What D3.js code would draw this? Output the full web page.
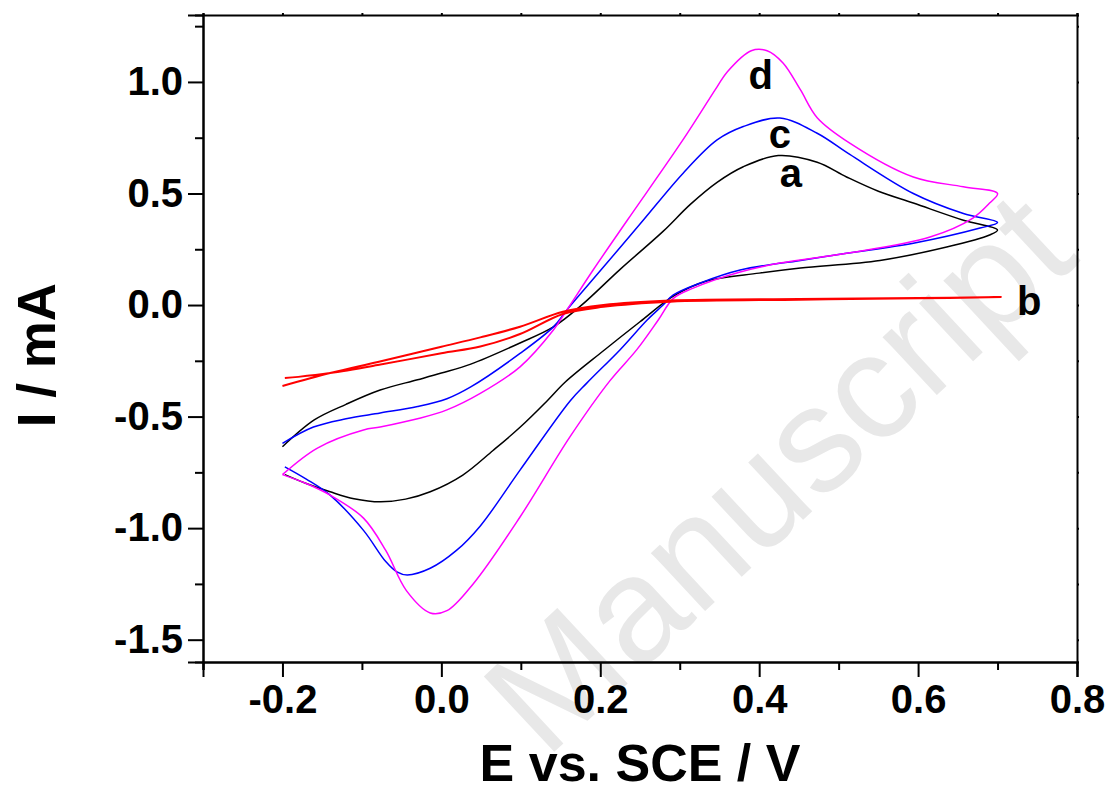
<!DOCTYPE html>
<html>
<head>
<meta charset="utf-8">
<script src="https://cdn.jsdelivr.net/npm/d3@7"></script>
<style>
  body { margin: 0; background: #fff; }
  text { font-family: "Liberation Sans", Arial, sans-serif; font-weight: bold; }
</style>
</head>
<body>
<div id="chart"></div>
<script>
// cyclic voltammograms: forward scan then reverse scan
const potA = [-0.2, -0.16, -0.12, -0.077, -0.03, 0.0, 0.037, 0.099, 0.141, 0.175, 0.225, 0.279, 0.313, 0.347, 0.38, 0.424, 0.473, 0.51, 0.55, 0.594, 0.657, 0.70,
              0.69, 0.636, 0.552, 0.452, 0.40, 0.334, 0.292, 0.25, 0.204, 0.156, 0.133, 0.099, 0.065, 0.027, -0.014, -0.045, -0.077, -0.11, -0.14, -0.17, -0.197];
const curA = [-0.635, -0.515, -0.445, -0.381, -0.335, -0.305, -0.265, -0.17, -0.098, -0.005, 0.16, 0.33, 0.45, 0.55, 0.62, 0.67, 0.64, 0.574, 0.51, 0.457, 0.38, 0.336,
              0.314, 0.26, 0.20, 0.166, 0.143, 0.108, 0.04, -0.075, -0.205, -0.345, -0.43, -0.548, -0.652, -0.762, -0.837, -0.87, -0.882, -0.868, -0.837, -0.80, -0.76];

const potB = [-0.2, -0.14, -0.08, 0.0, 0.049, 0.099, 0.153, 0.204, 0.288, 0.45, 0.60, 0.705,
              0.60, 0.45, 0.288, 0.204, 0.153, 0.099, 0.049, 0.0, -0.08, -0.14, -0.18, -0.197];
const curB = [-0.363, -0.305, -0.255, -0.187, -0.145, -0.097, -0.03, 0.0, 0.02, 0.027, 0.031, 0.036,
              0.03, 0.024, 0.015, -0.008, -0.04, -0.13, -0.186, -0.216, -0.269, -0.305, -0.322, -0.327];

const potC = [-0.2, -0.161, -0.12, -0.077, -0.03, 0.007, 0.037, 0.099, 0.141, 0.158, 0.204, 0.254, 0.304, 0.347, 0.38, 0.426, 0.473, 0.514, 0.594, 0.657, 0.70,
              0.678, 0.594, 0.51, 0.452, 0.376, 0.326, 0.292, 0.279, 0.259, 0.225, 0.183, 0.162, 0.099, 0.049, 0.019, -0.014, -0.043, -0.056, -0.07, -0.098, -0.14, -0.17, -0.197];
const curC = [-0.62, -0.547, -0.51, -0.484, -0.455, -0.42, -0.367, -0.217, -0.098, -0.022, 0.17, 0.38, 0.59, 0.74, 0.80, 0.838, 0.77, 0.675, 0.50, 0.41, 0.37,
              0.345, 0.277, 0.232, 0.20, 0.157, 0.099, 0.045, 0.0, -0.067, -0.20, -0.35, -0.43, -0.74, -0.99, -1.10, -1.18, -1.21, -1.196, -1.15, -1.01, -0.852, -0.78, -0.725];

const potD = [-0.2, -0.156, -0.098, -0.077, -0.03, 0.007, 0.049, 0.099, 0.141, 0.158, 0.191, 0.234, 0.304, 0.347, 0.36, 0.39, 0.41, 0.43, 0.452, 0.473, 0.514, 0.594, 0.657, 0.70,
              0.69, 0.669, 0.615, 0.51, 0.426, 0.376, 0.317, 0.292, 0.273, 0.246, 0.212, 0.162, 0.099, 0.04, 0.007, -0.014, -0.044, -0.07, -0.098, -0.14, -0.17, -0.2];
const curD = [-0.76, -0.641, -0.56, -0.547, -0.51, -0.47, -0.396, -0.277, -0.112, -0.022, 0.157, 0.38, 0.74, 0.978, 1.046, 1.14, 1.14, 1.085, 0.964, 0.84, 0.726, 0.574, 0.53, 0.50,
              0.457, 0.39, 0.305, 0.232, 0.188, 0.148, 0.076, 0.03, -0.067, -0.20, -0.34, -0.59, -0.95, -1.25, -1.37, -1.38, -1.28, -1.10, -0.955, -0.852, -0.80, -0.76];

const seriesNames = ["a", "b", "c", "d"];
const seriesColors = ["#000000", "#ff0000", "#0000ff", "#ff00ff"];
const labelE = [0.44, 0.74, 0.426, 0.402];
const labelI = [0.529, -0.045, 0.704, 0.969];

const xMajor = [-0.2, 0.0, 0.2, 0.4, 0.6, 0.8];
const xMinor = [-0.3, -0.1, 0.1, 0.3, 0.5, 0.7];
const yMajor = [-1.5, -1.0, -0.5, 0.0, 0.5, 1.0];
const yMinor = [-1.25, -0.75, -0.25, 0.25, 0.75, 1.25];

const width = 1113, height = 792;
const margin = { top: 15, right: 36, bottom: 130, left: 203 };

const svg = d3.select("#chart").append("svg")
    .attr("width", width)
    .attr("height", height);

const x = d3.scaleLinear().domain([-0.3, 0.8]).range([margin.left, width - margin.right]);
const y = d3.scaleLinear().domain([-1.6, 1.3]).range([height - margin.bottom, margin.top]);

// plain hyphen for negatives, like the original figure
const fmt = d => d3.format(".1f")(d).replace("\u2212", "-");

// faint watermark behind the plot
svg.append("text")
    .attr("transform", "translate(778,472) rotate(-43)")
    .attr("text-anchor", "middle")
    .attr("dominant-baseline", "central")
    .style("font-weight", "normal")
    .style("font-size", "150px")
    .attr("fill", "#e8e8e8")
    .text("Manuscript");

const line = d3.line()
    .x(d => x(d[0]))
    .y(d => y(d[1]))
    .curve(d3.curveCatmullRom.alpha(0.5));

const series = [
    { name: "a", pot: potA, cur: curA },
    { name: "b", pot: potB, cur: curB },
    { name: "c", pot: potC, cur: curC },
    { name: "d", pot: potD, cur: curD },
];

// draw order: a, c, d then b on top
[0, 2, 3, 1].forEach(i => {
    const s = series[i];
    svg.append("path")
        .datum(s.pot.map((p, k) => [p, s.cur[k]]))
        .attr("d", line)
        .attr("fill", "none")
        .attr("stroke", seriesColors[i])
        .attr("stroke-width", i === 1 ? 2 : 1.5);
});

// axes
const bottomAxis = svg.append("g")
    .attr("transform", `translate(0,${y(-1.6)})`)
    .call(d3.axisBottom(x).tickValues(xMajor).tickSize(15).tickPadding(8).tickFormat(fmt));
bottomAxis.append("g")
    .call(d3.axisBottom(x).tickValues(xMinor).tickSize(8).tickFormat(""));

const leftAxis = svg.append("g")
    .attr("transform", `translate(${x(-0.3)},0)`)
    .call(d3.axisLeft(y).tickValues(yMajor).tickSize(15).tickPadding(5).tickFormat(fmt));
leftAxis.append("g")
    .call(d3.axisLeft(y).tickValues(yMinor).tickSize(8).tickFormat(""));

svg.append("g")
    .attr("transform", `translate(0,${y(1.3)})`)
    .call(d3.axisTop(x).tickValues(xMajor.concat(xMinor)).tickSize(2).tickFormat(""));
svg.append("g")
    .attr("transform", `translate(${x(0.8)},0)`)
    .call(d3.axisRight(y).tickValues(yMajor.concat(yMinor)).tickSize(2).tickFormat(""));

svg.selectAll(".domain, .tick line")
    .attr("stroke", "#000")
    .attr("stroke-width", 2);
svg.selectAll(".tick text")
    .attr("fill", "#000")
    .style("font-size", "40px")
    .style("font-family", "'Liberation Sans', Arial, sans-serif")
    .style("font-weight", "bold");

// curve labels
svg.selectAll(".lbl")
    .data(seriesNames)
    .enter()
    .append("text")
    .attr("class", "lbl")
    .attr("x", (d, i) => x(labelE[i]))
    .attr("y", (d, i) => y(labelI[i]))
    .attr("text-anchor", "middle")
    .style("font-size", "40px")
    .text(d => d);

// axis titles
svg.append("text")
    .attr("x", (x(-0.3) + x(0.8)) / 2)
    .attr("y", 781)
    .attr("text-anchor", "middle")
    .style("font-size", "52px")
    .text("E vs. SCE / V");

svg.append("text")
    .attr("transform", "translate(55,355) rotate(-90)")
    .attr("text-anchor", "middle")
    .style("font-size", "53px")
    .text("I / mA");
</script>
</body>
</html>
